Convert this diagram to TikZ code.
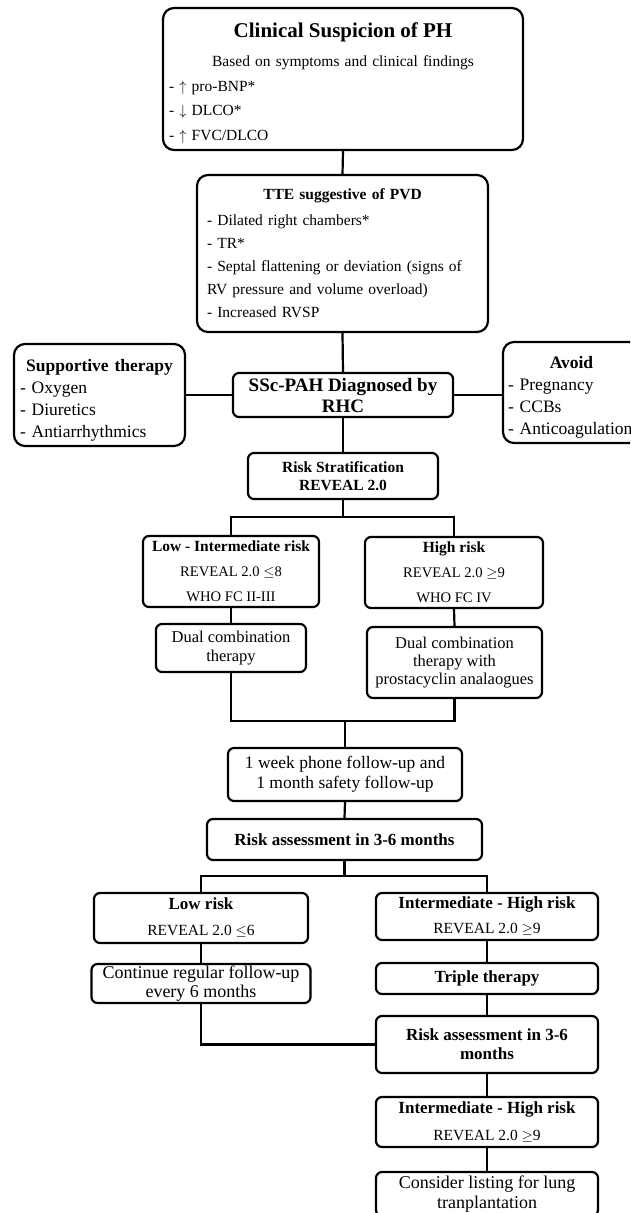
\documentclass[tikz,border=0pt]{standalone}
\usepackage{fontspec}
\setmainfont{Liberation Serif}
\usepackage{tikz}
\usetikzlibrary{positioning,calc}
\newcommand{\bodyfont}{\fontsize{15.5}{23}\selectfont}
\newcommand{\hdfont}{\fontsize{15.5}{23}\selectfont\bfseries}

\begin{document}
\begin{tikzpicture}[x=1pt, y=-1pt, font=\bodyfont,
  box/.style={draw, line width=2.2pt, rounded corners=6pt, inner sep=0pt, align=center},
  listbox/.style={box, rounded corners=11pt, align=left, inner ysep=0pt},
  link/.style={line width=2.2pt}]
\useasboundingbox (0,0) rectangle (630,1213);
\clip (0,0) rectangle (630,1213);

% top of the pathway
\node[listbox, text width=348pt, inner xsep=6pt, minimum height=142pt, font=\fontsize{15.5}{24.5}\selectfont] (susp) at (343,79)
  {{\centering\fontsize{21}{24}\selectfont\bfseries\rule{0pt}{22pt}Clinical Suspicion of PH\par}
   \vspace{5pt}
   {\centering Based on symptoms and clinical findings\par}
   - $\uparrow$ pro-BNP*\par
   - $\downarrow$ DLCO*\par
   - $\uparrow$ FVC/DLCO\par};
\node[listbox, text width=271pt, inner xsep=10pt, minimum height=157pt] (tte) at (342.5,253.5)
  {{\centering\hdfont TTE suggestive of PVD\par}
   \vspace{3pt}
   - Dilated right chambers*\par
   - TR*\par
   - Septal flattening or deviation (signs of\\RV pressure and volume overload)\par
   - Increased RVSP\par};

% diagnosis and side boxes
\node[box, minimum width=220pt, minimum height=44pt, font=\fontsize{19}{21}\selectfont\bfseries] (ssc) at (343,395)
  {SSc-PAH Diagnosed by\\RHC};
\node[listbox, text width=159pt, inner xsep=6pt, minimum height=102pt, font=\fontsize{17.5}{22}\selectfont] (supp) at (99.5,395)
  {{\centering\bfseries\rule{0pt}{23.5pt}Supportive therapy\par}
   - Oxygen\par
   - Diuretics\par
   - Antiarrhythmics\par};
\node[listbox, text width=127pt, inner xsep=5pt, minimum height=101pt, font=\fontsize{17.5}{22}\selectfont] (avoid) at (571.5,392.5)
  {{\centering\bfseries\rule{0pt}{21.5pt}Avoid\par}
   - Pregnancy\par
   - CCBs\par
   - Anticoagulation\par};

% risk stratification
\node[box, minimum width=190pt, minimum height=46pt, font=\fontsize{15.5}{18}\selectfont\bfseries] (riskstrat) at (343,476)
  {Risk Stratification\\REVEAL 2.0};
\node[box, minimum width=176pt, minimum height=71pt, font=\fontsize{14.6}{25}\selectfont] (lowint) at (231,571.5)
  {{\fontsize{15.5}{25}\selectfont\bfseries Low - Intermediate risk}\\REVEAL 2.0 $\leq$8\\WHO FC II-III};
\node[box, minimum width=178pt, minimum height=71pt, font=\fontsize{14.6}{25}\selectfont] (high) at (454,572.5)
  {{\fontsize{15.5}{25}\selectfont\bfseries High risk}\\REVEAL 2.0 $\geq$9\\WHO FC IV};
\node[box, minimum width=150pt, minimum height=48pt, font=\fontsize{16.5}{19}\selectfont] (dual1) at (231,648)
  {Dual combination\\therapy};
\node[box, minimum width=175pt, minimum height=71pt, font=\fontsize{16.5}{18}\selectfont] (dual2) at (454.5,662.5)
  {Dual combination\\therapy with\\prostacyclin analaogues};

% follow-up
\node[box, minimum width=234pt, minimum height=53pt, font=\fontsize{17.5}{20}\selectfont] (followup) at (345,774.5)
  {1 week phone follow-up and\\1 month safety follow-up};
\node[box, minimum width=275pt, minimum height=41pt, font=\fontsize{17}{19}\selectfont\bfseries] (assess1) at (344.5,839.5)
  {Risk assessment in 3-6 months};
\node[box, minimum width=214pt, minimum height=50pt, font=\fontsize{15.5}{26}\selectfont] (lowrisk) at (201,918)
  {{\fontsize{17}{26}\selectfont\bfseries Low risk}\\REVEAL 2.0 $\leq$6};
\node[box, minimum width=219pt, minimum height=39pt, font=\fontsize{18}{19}\selectfont] (cont) at (201,983.5)
  {Continue regular follow-up\\every 6 months};
\node[box, minimum width=222pt, minimum height=47pt, font=\fontsize{15.5}{25}\selectfont] (inthigh1) at (487,916.5)
  {{\fontsize{17}{25}\selectfont\bfseries Intermediate - High risk}\\REVEAL 2.0 $\geq$9};
\node[box, minimum width=222pt, minimum height=31pt, font=\fontsize{17}{19}\selectfont\bfseries] (triple) at (487,978.5)
  {Triple therapy};
\node[box, minimum width=222pt, minimum height=57pt, font=\fontsize{17}{19}\selectfont\bfseries] (assess2) at (487,1044.5)
  {Risk assessment in 3-6\\months};
\node[box, minimum width=222pt, minimum height=50pt, font=\fontsize{15.5}{27}\selectfont] (inthigh2) at (487,1122)
  {{\fontsize{17}{27}\selectfont\bfseries Intermediate - High risk}\\REVEAL 2.0 $\geq$9};
\node[box, minimum width=222pt, minimum height=44pt, font=\fontsize{18}{20}\selectfont] (listing) at (487,1194)
  {Consider listing for lung\\tranplantation};

% junction points
\coordinate (split1) at (343,517);
\coordinate (join1) at (345,721);
\coordinate (split2) at (344.5,876);

% connectors
\draw[link] (susp.south) -- (tte.north);
\draw[link] (tte.south) -- (ssc.north);
\draw[link] (supp.east) -- (ssc.west);
\draw[link] (ssc.east) -- (ssc.east -| avoid.west);
\draw[link] (ssc.south) -- (riskstrat.north);
\draw[link] (riskstrat.south) -- (split1);
\draw[link] (lowint.north) |- (split1) -| (high.north);
\draw[link] (lowint.south) -- (dual1.north);
\draw[link] (high.south) -- (dual2.north);
\draw[link] (dual1.south) |- (join1) -| (dual2.south);
\draw[link] (join1) -- (followup.north);
\draw[link] (followup.south) -- (assess1.north);
\draw[link] (assess1.south) -- (split2);
\draw[link] (lowrisk.north) |- (split2) -| (inthigh1.north);
\draw[link] (lowrisk.south) -- (cont.north);
\draw[link] (inthigh1.south) -- (triple.north);
\draw[link] (triple.south) -- (assess2.north);
\draw[link] (cont.south) |- (assess2.west);
\draw[link] (assess2.south) -- (inthigh2.north);
\draw[link] (inthigh2.south) -- (listing.north);
\end{tikzpicture}
\end{document}
